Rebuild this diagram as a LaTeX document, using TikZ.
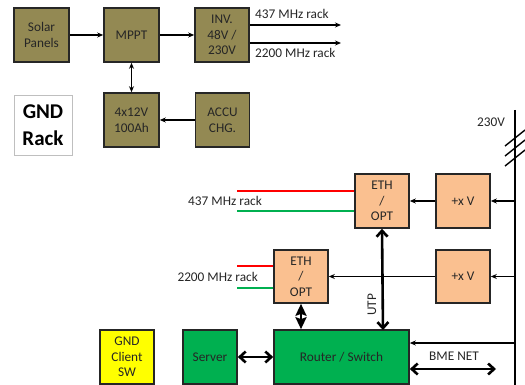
\documentclass[tikz,border=0pt]{standalone}
\usepackage{fontspec}
\setmainfont{Carlito}
\usetikzlibrary{arrows.meta}
\definecolor{olive}{HTML}{938953}
\definecolor{peach}{HTML}{FAC090}
\definecolor{gnd}{HTML}{00B050}
\definecolor{ylw}{HTML}{FFFF00}
\definecolor{txt}{HTML}{262626}
\definecolor{redl}{HTML}{FF0000}
\definecolor{greenl}{HTML}{00B050}
\tikzset{
  box/.style={draw=black!85, line width=1.6pt, minimum width=54pt, minimum height=54pt,
    align=center, inner sep=1pt, text=txt, font=\fontsize{13.3}{15.5}\selectfont},
  olivebox/.style={box, fill=olive},
  peachbox/.style={box, fill=peach},
  greenbox/.style={box, fill=gnd},
  ylwbox/.style={box, fill=ylw},
  lbl/.style={text=txt, font=\fontsize{13.3}{15.5}\selectfont, inner sep=1pt},
  thinarr/.style={line width=1.1pt, -{Stealth[length=6pt,width=5pt]}},
  thickarr/.style={line width=2.6pt, {Straight Barb[length=6pt,width=11pt]}-{Straight Barb[length=6pt,width=11pt]}},
}
\begin{document}
\begin{tikzpicture}[x=1pt,y=-1pt]
\useasboundingbox (0,0) rectangle (525,385);
% top power chain
\node[olivebox, minimum width=55pt] (solar) at (41.5,35) {Solar\\Panels};
\node[olivebox, minimum width=55pt] (mppt) at (131.5,35) {MPPT};
\node[olivebox] (inv) at (222,35) {INV.\\48V /\\230V};
\node[olivebox, minimum width=55pt] (batt) at (131.5,120) {4x12V\\100Ah};
\node[olivebox] (accu) at (222.5,120) {ACCU\\CHG.};
\node[draw=black!25, line width=0.8pt, minimum width=58pt, minimum height=60pt, align=center,
  font=\bfseries\fontsize{21}{27}\selectfont, text=black] (rack) at (43,125) {GND\\Rack};
\draw[thinarr] (solar) -- (mppt);
\draw[thinarr] (mppt) -- (inv);
\draw[thinarr] (accu) -- (batt);
\draw[line width=1.1pt, {Stealth[length=6pt,width=5pt]}-{Stealth[length=6pt,width=5pt]}] (mppt) -- (batt);
\coordinate (o1) at (341,25);
\coordinate (o2) at (341,43);
\draw[thinarr] (inv.east |- o1) -- (o1);
\draw[thinarr] (inv.east |- o2) -- (o2);
\node[lbl, anchor=west] (l437a) at (254,14) {437 MHz rack};
\node[lbl, anchor=west] (l2200a) at (254,53) {2200 MHz rack};
% mains line
\coordinate (vtop) at (515,110);
\coordinate (vbot) at (515,385);
\draw[line width=2.8pt] (vtop) -- (vbot);
\node[lbl] (v230) at (491,122) {230V};
\foreach \yy [count=\i] in {138,148,158}{
  \coordinate (ha\i) at (505,\yy+8);
  \coordinate (hb\i) at (525,\yy-8);
  \draw[line width=1.4pt] (ha\i) -- (hb\i);
}
% network part
\node[peachbox] (eth1) at (382,201) {ETH\\/\\OPT};
\node[peachbox] (pxv1) at (463,201) {+x V};
\node[peachbox, minimum height=53pt] (eth2) at (301,276.5) {ETH\\/\\OPT};
\node[peachbox, minimum height=53pt] (pxv2) at (463,276.5) {+x V};
\node[ylwbox] (client) at (127,357) {GND\\Client\\SW};
\node[greenbox] (server) at (210,357) {Server};
\node[greenbox, minimum width=135pt] (router) at (341.5,357) {Router / Switch};
\coordinate (m1) at (515,201);
\coordinate (m2) at (515,276.5);
\coordinate (m3) at (515,343);
\draw[thinarr] (m1) -- (pxv1);
\draw[thinarr] (pxv1) -- (eth1);
\draw[thinarr] (m2) -- (pxv2);
\draw[thinarr] (pxv2) -- (eth2);
\draw[thinarr] (m3) -- (router.east |- m3);
% fibre lines
\coordinate (r1) at (237,191);
\coordinate (g1) at (237,211);
\coordinate (r2) at (237,266);
\coordinate (g2) at (237,288);
\draw[redl, line width=1.5pt] (r1) -- (eth1.west |- r1);
\draw[greenl, line width=1.5pt] (g1) -- (eth1.west |- g1);
\draw[redl, line width=1.5pt] (r2) -- (eth2.west |- r2);
\draw[greenl, line width=1.5pt] (g2) -- (eth2.west |- g2);
\node[lbl, anchor=east] (l437b) at (263,201) {437 MHz rack};
\node[lbl, anchor=east] (l2200b) at (259,277) {2200 MHz rack};
% thick links
\coordinate (utpb) at (383,330);
\draw[thickarr] (eth1.south) -- (utpb);
\node[lbl, rotate=90] (utp) at (372,305) {UTP};
\draw[line width=2.6pt, {Stealth[length=12pt,width=11pt,inset=2pt]}-{Stealth[length=12pt,width=11pt,inset=2pt]}] (eth2.south) -- (eth2.south |- router.north);
\draw[thickarr] (server) -- (router);
\coordinate (bme) at (496,369);
\draw[thickarr] (router.east |- bme) -- (bme);
\node[lbl] (bmel) at (454,356) {BME NET};
\end{tikzpicture}
\end{document}
